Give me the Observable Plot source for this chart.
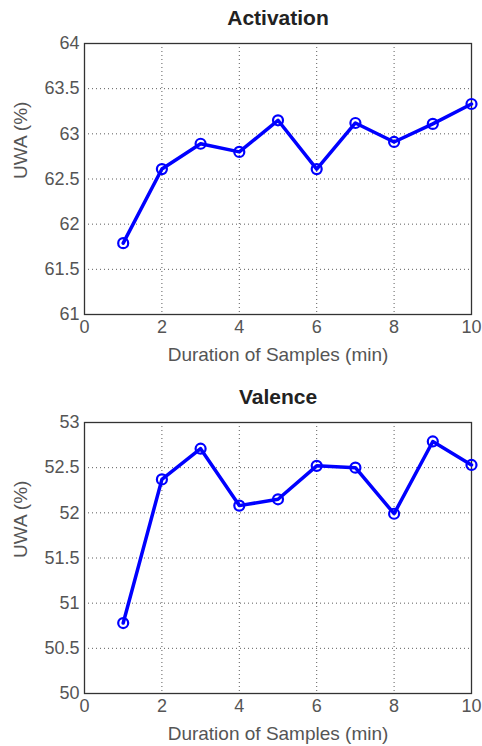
<!DOCTYPE html>
<html>
<head>
<meta charset="utf-8">
<script src="https://cdn.jsdelivr.net/npm/d3@7"></script>
<script src="https://cdn.jsdelivr.net/npm/@observablehq/plot@0.6"></script>
<style>
  html, body { margin: 0; padding: 0; background: #fff; }
  #wrap { width: 482px; }
  svg { display: block; }
</style>
</head>
<body>
<div id="wrap"></div>
<script>
const durations = [1, 2, 3, 4, 5, 6, 7, 8, 9, 10];
const activation = [61.79, 62.61, 62.89, 62.80, 63.15, 62.61, 63.12, 62.91, 63.11, 63.33];
const valence = [50.78, 52.37, 52.71, 52.08, 52.15, 52.52, 52.50, 51.99, 52.79, 52.53];
const xTicks = [0, 2, 4, 6, 8, 10];
const activationTicks = [61, 61.5, 62, 62.5, 63, 63.5, 64];
const valenceTicks = [50, 50.5, 51, 51.5, 52, 52.5, 53];
const xLabel = "Duration of Samples (min)";
const yLabel = "UWA (%)";

function chart(title, values, yTicks, marginTop, marginBottom, height) {
  const data = durations.map((d, i) => ({x: d, y: values[i]}));
  return Plot.plot({
    width: 482,
    height,
    marginLeft: 84,
    marginRight: 11,
    marginTop,
    marginBottom,
    style: {fontFamily: "'Liberation Sans', Arial, sans-serif", fontSize: "18px", color: "#555", background: "#fff"},
    x: {domain: [0, 10], ticks: xTicks},
    y: {domain: [yTicks[0], yTicks[yTicks.length - 1]], ticks: yTicks},
    marks: [
      Plot.gridX(xTicks.slice(1, -1), {stroke: "#333", strokeOpacity: 0.8, strokeDasharray: "1,3"}),
      Plot.gridY(yTicks.slice(1, -1), {stroke: "#333", strokeOpacity: 0.8, strokeDasharray: "1,3"}),
      Plot.frame({stroke: "#333", strokeWidth: 1.3}),
      Plot.line(data, {x: "x", y: "y", stroke: "#0000ff", strokeWidth: 3.5}),
      Plot.dot(data, {x: "x", y: "y", r: 5, stroke: "#0000ff", strokeWidth: 2.2, fill: "none"}),
      Plot.axisX({ticks: xTicks, tickSize: 0, tickPadding: 6, tickFormat: d => String(d), label: null}),
      Plot.axisY({ticks: yTicks, tickSize: 0, tickPadding: 5, tickFormat: d => String(d), label: null}),
      Plot.text([title], {frameAnchor: "top", dy: -25, lineAnchor: "middle", fontSize: 21, fontWeight: "bold", fill: "#222"}),
      Plot.text([xLabel], {frameAnchor: "bottom", dy: 40, lineAnchor: "middle", fontSize: 19, fill: "#555"}),
      Plot.text([yLabel], {frameAnchor: "left", dx: -64, rotate: -90, lineAnchor: "middle", fontSize: 19, fill: "#555"})
    ]
  });
}

const wrap = document.getElementById("wrap");
wrap.appendChild(chart("Activation", activation, activationTicks, 43, 56, 370));
wrap.appendChild(chart("Valence", valence, valenceTicks, 52, 53, 376));
</script>
</body>
</html>
